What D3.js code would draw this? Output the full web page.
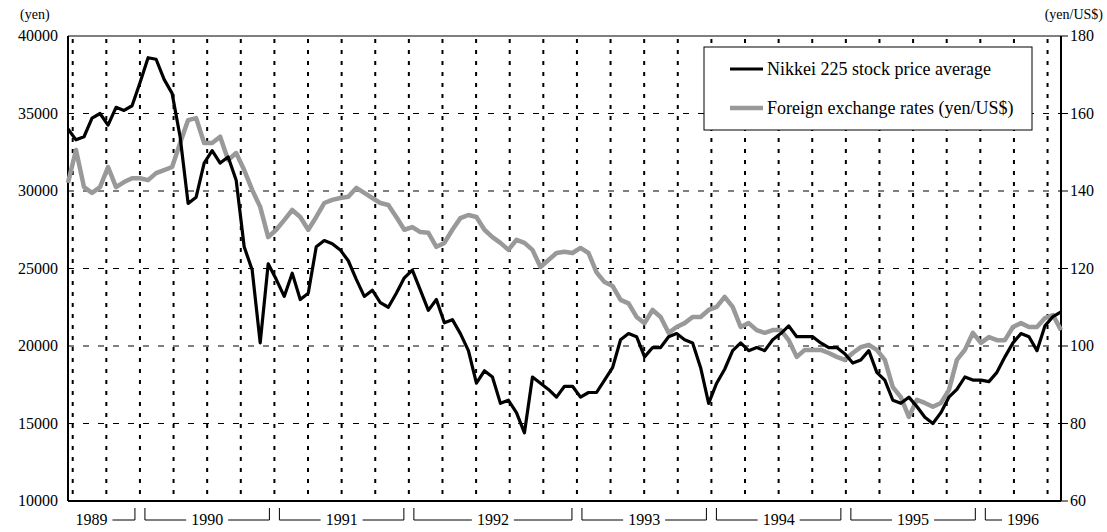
<!DOCTYPE html>
<html><head><meta charset="utf-8">
<script src="https://cdn.jsdelivr.net/npm/d3@7"></script>
<style>body{margin:0;background:#fff} svg text{font-family:"Liberation Serif","DejaVu Serif","Times New Roman",serif;}</style>
</head><body>
<svg id="c" width="1107" height="532"></svg>
<script>
const nikkei=[34000,33300,33500,34700,35000,34250,35400,35200,35500,37000,38600,38500,37200,36300,33500,29200,29600,31800,32600,31800,32200,30700,26400,24900,20200,25300,24300,23200,24700,23000,23400,26400,26800,26600,26200,25500,24300,23200,23600,22800,22500,23400,24400,24900,23600,22300,23000,21500,21700,20800,19700,17600,18400,18000,16300,16500,15700,14400,18000,17600,17200,16700,17400,17400,16700,17000,17000,17800,18600,20400,20800,20600,19300,19900,19900,20600,20800,20400,20200,18600,16300,17600,18500,19700,20200,19700,19900,19700,20400,20800,21300,20600,20600,20600,20200,19900,19900,19500,18900,19100,19700,18300,17800,16500,16300,16700,16100,15400,15000,15700,16700,17200,18000,17800,17800,17700,18300,19300,20200,20800,20600,19700,21300,21900,22200];
const fx=[142.1,150.6,141,139.5,141,146.2,141,142.3,143.3,143.3,142.8,144.6,145.4,146.2,152.4,158.3,158.8,152.4,152.4,154,148,149.8,145.4,140.3,135.9,128.1,130,132.5,135.1,133.3,130,133.3,136.9,137.7,138.2,138.5,140.8,139.5,138.2,136.9,136.4,133.3,130,130.7,129.4,129.2,125.6,126.6,130,133,133.8,133.3,130,128.1,126.6,124.8,127.4,126.6,124.8,120.4,122.2,124,124.3,124,125.3,124,119,116.5,115.5,111.9,111,107.5,105.9,109.3,107.5,103.4,104.9,105.9,107.5,107.5,109.3,110.1,112.7,110.1,104.9,105.9,104.1,103.4,104.1,104.1,101.5,97.2,99,99,99,98.2,97.2,96.4,98.2,99.7,100.3,99,96.4,89.4,86.8,81.7,86.1,85.3,84.3,85.3,88.6,96.4,99,103.4,100.8,102.3,101.5,101.5,104.9,105.9,104.9,104.9,107.2,108,104.1];
const years=["1989","1990","1991","1992","1993","1994","1995","1996"];
const yearBreaks=[2,6,10,15,19,23,27]; // in quarters
const leftTicks=[10000,15000,20000,25000,30000,35000,40000];
const rightTicks=[60,80,100,120,140,160,180];
const seriesNames=["Nikkei 225 stock price average","Foreign exchange rates (yen/US$)"];

const svg=d3.select("#c");
const FS=16;
const L=68,R=1061,T=36,B=501;
const qMin=-0.14,qMax=29.4;
const x=d3.scaleLinear().domain([qMin,qMax]).range([L,R]);
const ptQ=d3.scaleLinear().domain([0,nikkei.length-1]).range([qMin,qMax]);
const yL=d3.scaleLinear().domain([10000,40000]).range([B,T]);
const yR=d3.scaleLinear().domain([60,180]).range([B,T]);

svg.append("g").selectAll("line").data(leftTicks.slice(1,-1)).join("line")
 .attr("x1",L).attr("x2",R).attr("y1",d=>yL(d)).attr("y2",d=>yL(d))
 .attr("stroke","#000").attr("stroke-width",1).attr("stroke-dasharray","6,9");
svg.append("g").selectAll("line").data(d3.range(0,30)).join("line")
 .attr("x1",d=>x(d)).attr("x2",d=>x(d)).attr("y1",T+3).attr("y2",B-3)
 .attr("stroke","#000").attr("stroke-width",2).attr("stroke-dasharray","4,7");

svg.append("line").attr("x1",L).attr("x2",R).attr("y1",T).attr("y2",T).attr("stroke","#000");
svg.append("line").attr("x1",L).attr("x2",R).attr("y1",B).attr("y2",B).attr("stroke","#000").attr("stroke-width",2);
svg.append("line").attr("x1",L).attr("x2",L).attr("y1",T).attr("y2",B).attr("stroke","#000").attr("stroke-width",2);
svg.append("line").attr("x1",R).attr("x2",R).attr("y1",T).attr("y2",B).attr("stroke","#000").attr("stroke-width",2);

svg.append("g").selectAll("text").data(leftTicks).join("text")
 .attr("x",L-10).attr("y",d=>yL(d)+5).attr("text-anchor","end")
 .attr("font-size",FS).text(d=>d);
svg.append("g").selectAll("line").data(rightTicks).join("line")
 .attr("x1",R).attr("x2",R+7).attr("y1",d=>yR(d)).attr("y2",d=>yR(d)).attr("stroke","#000");
svg.append("g").selectAll("text").data(rightTicks).join("text")
 .attr("x",R+9).attr("y",d=>yR(d)+5).attr("font-size",FS).text(d=>d);
svg.append("text").attr("x",20).attr("y",19).attr("font-size",14).text("(yen)");
svg.append("text").attr("x",1103).attr("y",19).attr("text-anchor","end").attr("font-size",14).text("(yen/US$)");

svg.append("path").datum(fx).attr("fill","none").attr("stroke","#999").attr("stroke-width",4.5).attr("stroke-linejoin","round")
 .attr("d",d3.line().x((d,i)=>x(ptQ(i))).y(d=>yR(d)));
svg.append("path").datum(nikkei).attr("fill","none").attr("stroke","#000").attr("stroke-width",3.2).attr("stroke-linejoin","round")
 .attr("d",d3.line().x((d,i)=>x(ptQ(i))).y(d=>yL(d)));

const bounds=[qMin].concat(yearBreaks).concat([qMax]);
const yy=520, gap=5;
years.forEach((yr,i)=>{
  const a=(i===0)?x(bounds[i]):x(bounds[i])+gap;
  const b=(i===years.length-1)?x(bounds[i+1]):x(bounds[i+1])-gap;
  const cx=(i===0)?(a+b)/2-10:(i===years.length-1?b-38:(a+b)/2);
  const t=svg.append("text").attr("x",cx).attr("y",yy+5).attr("text-anchor","middle").attr("font-size",FS).text(yr);
  const w=t.node().getComputedTextLength();
  const g=svg.append("g").attr("stroke","#000").attr("fill","none");
  if(i>0){ g.append("path").attr("d",`M${a},${B+7}V${yy}H${cx-w/2-5}`); }
  if(i<years.length-1){ g.append("path").attr("d",`M${cx+w/2+5},${yy}H${b}V${B+7}`); }
});

const lg=svg.append("g");
lg.append("rect").attr("x",704).attr("y",47).attr("width",328).attr("height",83).attr("fill","#fff").attr("stroke","#000");
[["#000",3.2,69],["#999",4.5,108]].forEach((s,i)=>{
  lg.append("line").attr("x1",730).attr("x2",763).attr("y1",s[2]).attr("y2",s[2]).attr("stroke",s[0]).attr("stroke-width",s[1]);
  lg.append("text").attr("x",767).attr("y",s[2]+6).attr("font-size",18).text(seriesNames[i]);
});
</script>
</body></html>
